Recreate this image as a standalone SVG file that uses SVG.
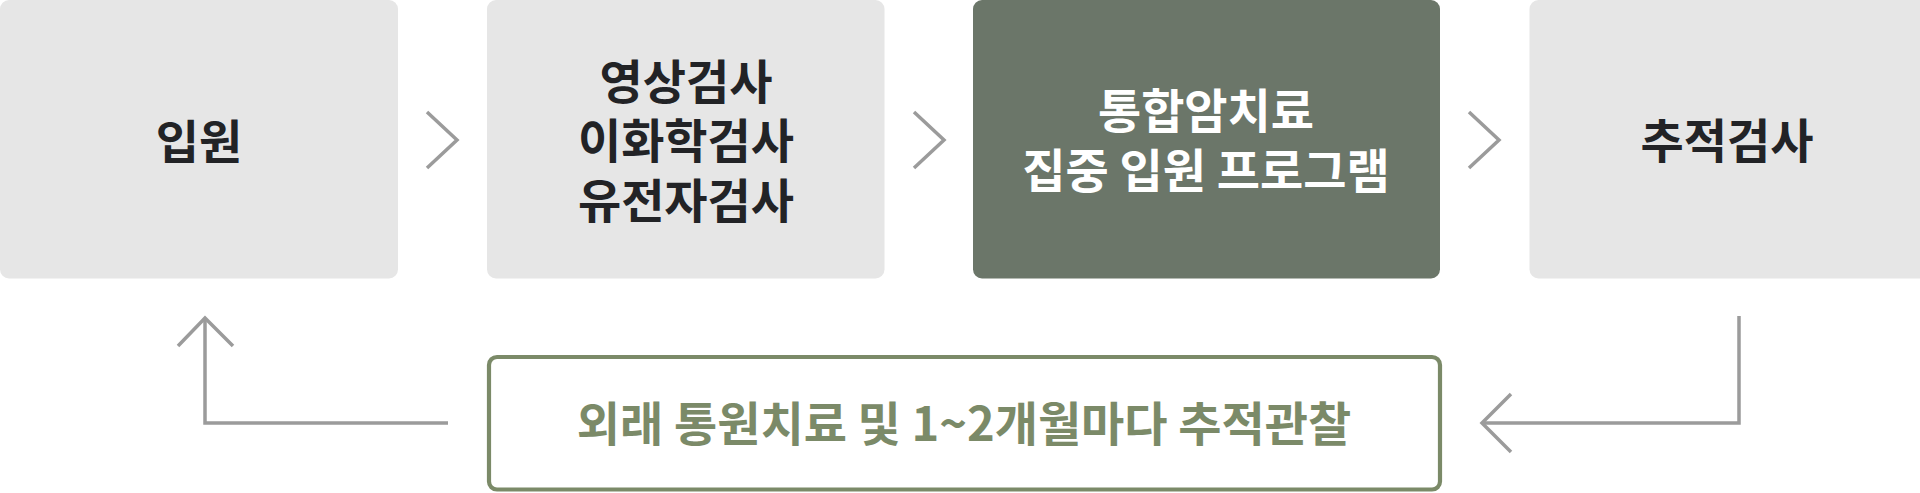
<svg xmlns="http://www.w3.org/2000/svg" width="1920" height="493" viewBox="0 0 1920 493">
<style>
.box{fill:#e6e6e6}
.dark{fill:#6b7669}
.t{font-family:"Noto Sans CJK KR","Noto Sans",sans-serif;font-weight:700;font-size:47px;text-anchor:middle}
.tk{fill:#222326}
.tw{fill:#ffffff}
.tg{fill:#7b8a68}
.ln{fill:none;stroke:#9b9b9b;stroke-width:3.5}
</style>
<rect width="1920" height="493" fill="#ffffff"/>
<g id="node-admission">
<rect class="box" x="0" y="0" width="398" height="278.5" rx="9"/>
<text class="t tk" x="199" y="159">입원</text>
</g>
<g id="node-tests">
<rect class="box" x="487" y="0" width="397.5" height="278.5" rx="9"/>
<text class="t tk" x="686" y="99"><tspan x="686" y="99">영상검사</tspan><tspan x="686" y="158">이화학검사</tspan><tspan x="686" y="218">유전자검사</tspan></text>
</g>
<g id="node-program">
<rect class="dark" x="973" y="0" width="467" height="278.5" rx="9"/>
<text class="t tw" x="1206" y="128"><tspan x="1206" y="128">통합암치료</tspan><tspan x="1206" y="188">집중 입원 프로그램</tspan></text>
</g>
<g id="node-followup">
<rect class="box" x="1529.5" y="0" width="410" height="278.5" rx="9"/>
<text class="t tk" x="1727" y="158">추적검사</text>
</g>
<g id="node-outpatient">
<rect x="489" y="357" width="951" height="132.5" rx="8" fill="#ffffff" stroke="#7b8a68" stroke-width="4.2"/>
<text class="t tg" x="964" y="441">외래 통원치료 및 1~2개월마다 추적관찰</text>
</g>
<g id="connectors">
<polyline class="ln" points="427,112 457,140 427,168"/>
<polyline class="ln" points="914,112 944,140 914,168"/>
<polyline class="ln" points="1469,112 1499,140 1469,168"/>
<polyline class="ln" points="1739,316 1739,423 1482,423"/>
<polyline class="ln" points="1511,394 1482,423 1511,452"/>
<polyline class="ln" points="448,423 205,423 205,318"/>
<polyline class="ln" points="178,346 205,318 233,346"/>
</g>
</svg>
